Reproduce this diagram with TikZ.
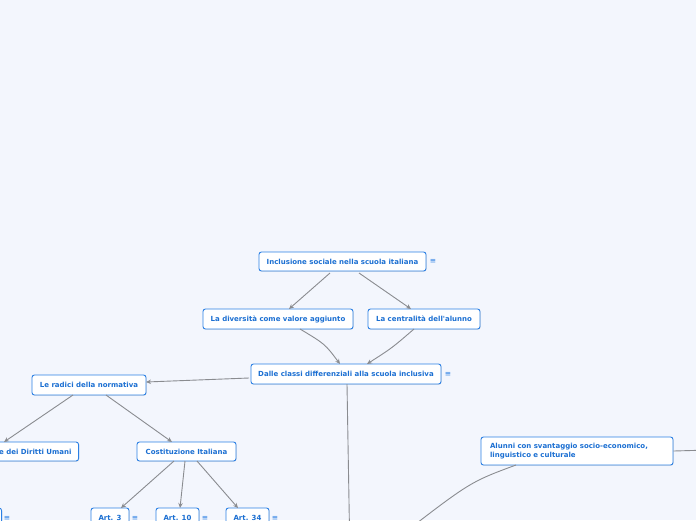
\documentclass[tikz,border=0pt]{standalone}
\usepackage{fontspec}
\newfontfamily\nodefont{DejaVu Sans}
\usetikzlibrary{arrows.meta,shadows}
\definecolor{bg}{HTML}{F3F6FD}
\definecolor{nodeblue}{HTML}{2C80E4}
\definecolor{textblue}{HTML}{1B6FD2}
\definecolor{linegray}{HTML}{8A8C90}
\begin{document}
\begin{tikzpicture}[x=1pt,y=-1pt,
  topic/.style={draw=nodeblue, fill=white, rounded corners=2.5pt, line width=0.9pt,
    text=textblue, font=\nodefont\bfseries\fontsize{7}{9}\selectfont, inner sep=0pt,
    drop shadow={shadow xshift=0.5pt,shadow yshift=-0.7pt,opacity=0.25}},
  conn/.style={draw=linegray, line width=0.9pt, -{Stealth[length=5pt,width=4.5pt]}},
  plainline/.style={draw=linegray, line width=0.9pt},
  icon/.style={text=nodeblue, font=\nodefont\fontsize{7.5}{8}\selectfont, inner sep=0pt}]
\useasboundingbox (0,0) rectangle (696,520);
\fill[bg] (0,0) rectangle (696,520);
\clip (0,0) rectangle (696,520);

\node[topic, minimum width=167pt, minimum height=19pt] (n1) at (342.5,261.5) {Inclusione sociale nella scuola italiana};
\node[topic, minimum width=150pt, minimum height=20pt] (n2) at (278,319) {La diversità come valore aggiunto};
\node[topic, minimum width=112pt, minimum height=20pt] (n3) at (424,319) {La centralità dell'alunno};
\node[topic, minimum width=190pt, minimum height=20pt] (n4) at (346,374) {Dalle classi differenziali alla scuola inclusiva};
\node[topic, minimum width=114pt, minimum height=20pt] (n5) at (89,385) {Le radici della normativa};
\node[topic, minimum height=19pt, inner xsep=7pt, anchor=east] (n6) at (79,451.5) {Dichiarazione Universale dei Diritti Umani};
\node[topic, minimum width=99pt, minimum height=19pt] (n7) at (186.5,451.5) {Costituzione Italiana};
\node[topic, minimum width=38pt, minimum height=19pt] (n8) at (110,517.5) {Art. 3};
\node[topic, minimum width=43pt, minimum height=19pt] (n9) at (177.5,517.5) {Art. 10};
\node[topic, minimum width=43pt, minimum height=19pt] (n10) at (247.5,517.5) {Art. 34};
\node[topic, minimum width=40pt, minimum height=19pt, anchor=east] (n11) at (2,517.5) {};
\node[topic, minimum width=192pt, minimum height=28pt, text width=174pt, align=left] (n12) at (577,451) {Alunni con svantaggio socio-economico,\\linguistico e culturale};

\node[icon] (i1) at (433,261.5) {≡};
\node[icon] (i4) at (448,374.5) {≡};
\node[icon] (i8) at (135,518) {≡};
\node[icon] (i9) at (205,518) {≡};
\node[icon] (i10) at (275,518) {≡};
\node[icon] (i11) at (7,518) {≡};

\coordinate (down) at (350,560);
\coordinate (hidden) at (395,540);
\coordinate (right) at (710,450);

\draw[conn] (330,273) -- (289,309);
\draw[conn] (359,273) -- (411,309);
\draw[conn] (300,329) .. controls (325,344) .. (340,364);
\draw[conn] (414,329) .. controls (392,348) .. (367,364);
\draw[conn] (249,378) -- (146,382);
\draw[conn] (73,395) -- (4,442);
\draw[conn] (106,395) -- (172,442);
\draw[conn] (174,461) -- (121,508);
\draw[conn] (185,461) -- (180,508);
\draw[conn] (197,461) -- (238,508);
\draw[plainline] (347,384) -- (down);
\draw[plainline] (516,465) .. controls (470,482) .. (hidden);
\draw[plainline] (n12.east) -- (right);
\end{tikzpicture}
\end{document}
